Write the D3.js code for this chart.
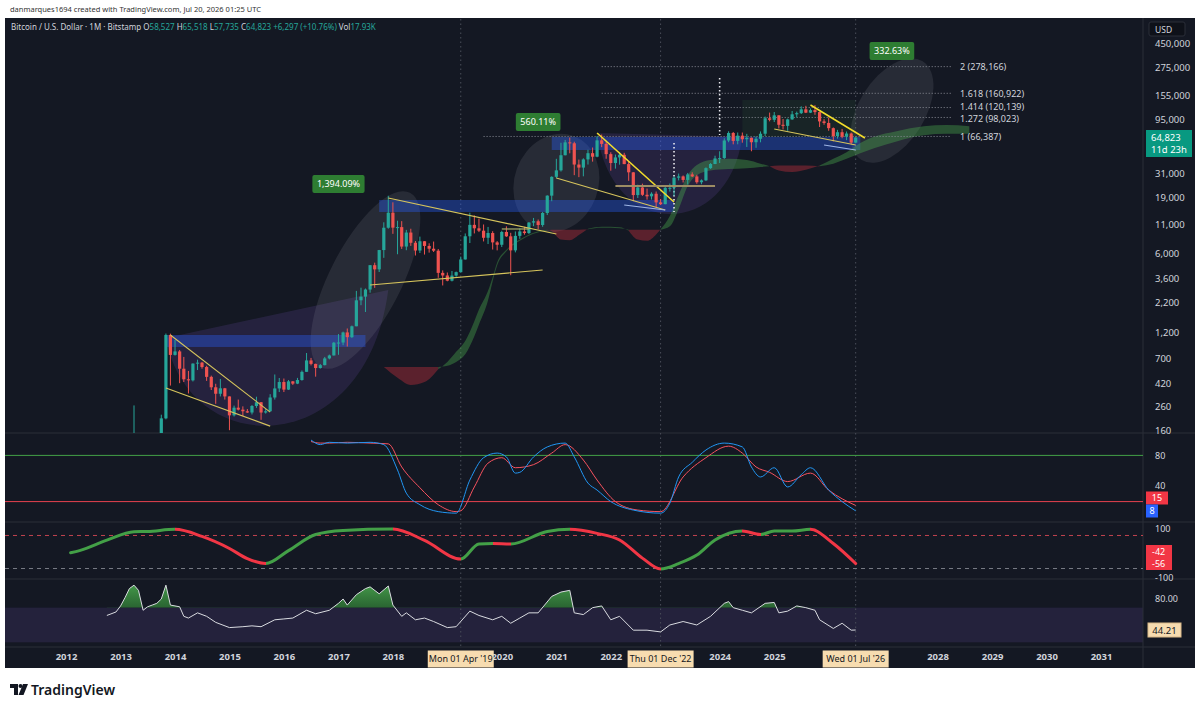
<!DOCTYPE html>
<html>
<head>
<meta charset="utf-8">
<script src="https://cdn.jsdelivr.net/npm/d3@7"></script>
<style>
  body { margin: 0; background: #fff; }
  svg text { font-family: "Noto Sans", "Open Sans", "DejaVu Sans", sans-serif; }
</style>
</head>
<body>
<svg id="chart" width="1200" height="710"></svg>
<script>
// ---------- data ----------
const firstMonth = "2013-01";
// monthly candles [open, high, low, close]
const ohlc = [
  // 2013
  [13.5,20.4,13.2,20.4],[20.4,33.5,19.1,33.4],[33.4,95,33,93],[93,266,50,139],[139,140,79,129],[129,130,88,97],
  [97,111,65,106],[106,140,101,135],[135,141,102,133],[133,220,100,204],[204,1163,200,1130],[1130,1160,400,750],
  // 2014
  [750,1020,740,806],[806,830,420,565],[565,720,430,455],[455,540,340,445],[445,630,435,628],[628,680,550,640],
  [640,650,565,585],[585,600,440,478],[478,490,365,386],[386,415,275,338],[338,458,320,378],[378,381,300,320],
  // 2015
  [320,320,160,217],[217,265,212,254],[254,300,240,244],[244,261,214,236],[236,247,228,230],[230,268,221,263],
  [263,318,253,284],[284,285,198,230],[230,247,225,236],[236,335,235,313],[313,502,300,377],[377,467,350,430],
  // 2016
  [430,462,350,368],[368,448,365,436],[436,439,405,416],[416,468,412,448],[448,545,442,530],[530,780,530,670],
  [670,705,605,624],[624,627,480,573],[573,622,566,608],[608,720,605,698],[698,755,685,742],[742,979,740,964],
  // 2017
  [964,1150,752,967],[967,1210,915,1190],[1190,1290,891,1080],[1080,1370,1060,1350],[1350,2790,1350,2300],[2300,2980,2080,2480],
  [2480,2930,1810,2870],[2870,4740,2690,4730],[4730,4980,2970,4340],[4340,6470,4110,6450],[6450,11400,5500,10200],[10200,19666,10000,13880],
  // 2018
  [13880,17180,9000,10220],[10220,11780,5920,10330],[10330,11680,6600,6930],[6930,9760,6430,9240],[9240,9990,7030,7490],[7490,7770,5770,6390],
  [6390,8500,6070,7730],[7730,7750,5880,7020],[7020,7410,6120,6630],[6630,7680,6200,6370],[6370,6590,3650,4040],[4040,4250,3120,3830],
  // 2019
  [3830,4070,3400,3440],[3440,4200,3390,3820],[3820,4150,3730,4100],[4100,5640,4060,5320],[5320,9070,5300,8560],[8560,13880,7450,10820],
  [10820,13140,9070,10080],[10080,12320,9330,9600],[9600,10900,7700,8300],[8300,10370,7300,9150],[9150,9500,6520,7550],[7550,7750,6410,7190],
  // 2020
  [7190,9580,6860,9350],[9350,10500,8450,8550],[8550,9190,3850,6410],[6410,9450,6150,8630],[8630,10070,8120,9450],[9450,10380,8840,9140],
  [9140,11440,8980,11340],[11340,12470,10540,11650],[11650,12070,9880,10790],[10790,14100,10400,13800],[13800,19850,13230,19700],[19700,29300,17570,28990],
  // 2021
  [28990,41950,28130,33110],[33110,58350,32300,45160],[45160,61780,45000,58800],[58800,64900,47000,57720],[57720,59590,30000,37300],[37300,41300,28800,35040],
  [35040,42400,29300,41460],[41460,50500,37300,47100],[47100,52900,39600,43820],[43820,67000,43300,61300],[61300,69000,53300,57000],[57000,59100,42000,46200],
  // 2022
  [46200,47990,32900,38480],[38480,45800,34300,43190],[43190,48200,37200,45540],[45540,47450,37600,37650],[37650,40000,26700,31800],[31800,31950,17600,19940],
  [19940,24670,18780,23300],[23300,25200,19600,20050],[20050,22800,18150,19420],[19420,21100,18200,20490],[20490,21450,15480,17160],[17160,18400,16260,16540],
  // 2023
  [16540,23960,16500,23130],[23130,25250,21400,23140],[23140,29200,19570,28470],[28470,31000,26940,29250],[29250,29820,25810,27210],[27210,31400,24750,30470],
  [30470,31800,28860,29230],[29230,30200,25160,25940],[25940,27500,24900,26960],[26960,35200,26560,34650],[34650,38400,34100,37720],[37720,44700,37600,42280],
  // 2024
  [42280,48970,38500,42580],[42580,64000,41880,61130],[61130,73800,59000,71300],[71300,72800,56500,60600],[60600,71980,56550,67500],[67500,71950,58400,62700],
  [62700,70000,53500,64600],[64600,65000,49000,58970],[58970,66500,52600,63300],[63300,73600,58900,70200],[70200,99800,66800,96400],[96400,108300,90500,93400],
  // 2025
  [93400,109600,89200,102400],[102400,102500,78200,84350],[84350,95000,76600,82500],[82500,95800,74500,94200],[94200,112000,93400,104600],[104600,110500,98200,107100],
  [107100,123200,105200,115800],[115800,124500,107300,108200],[108200,117900,107300,114000],[114000,126200,103500,109500],[109500,110500,80600,90400],[90400,94600,84400,87600],
  // 2026
  [87600,97900,74600,78700],[78700,79800,60000,66900],[66900,76000,63500,72400],[72400,77500,64000,66000],[66000,73500,61500,70500],[70500,71800,56500,58527],
  [58527,65518,57735,64823]
];

const priceTicks = [160, 260, 420, 700, 1200, 2200, 3600, 6000, 11000, 19000, 31000, 95000, 155000, 275000, 450000];
// years whose labels are not hidden by the date boxes
const yearTicks = [2012, 2013, 2014, 2015, 2016, 2017, 2018, 2020, 2021, 2022, 2024, 2025, 2028, 2029, 2030, 2031];

// cloud spans (price)
const cloudDates = ["2017-11","2018-02","2018-05","2018-08","2018-11","2019-01","2019-03","2019-05","2019-07","2019-08","2019-10","2019-11","2019-12",
  "2020-02","2020-05","2020-08","2020-11","2020-12","2021-02","2021-04","2021-06","2021-08","2021-11","2022-03","2022-05","2022-07","2022-09","2022-11","2022-12",
  "2023-02","2023-04","2023-06","2023-08","2023-11","2024-03","2024-07","2024-10","2024-12","2025-02","2025-05","2025-08","2025-11",
  "2026-02","2026-05","2026-08","2026-11","2027-04","2027-10","2028-03","2028-08"];
const spanA = [585,470,405,430,560,650,800,1000,1500,1900,2800,3700,5000,
  6500,8000,9200,9800,9500,8000,7900,8800,10000,10400,10300,9600,8000,7800,8900,9900,
  13000,20000,30000,37000,41000,42000,41000,38000,36000,33000,32000,33500,36500,
  42000,48000,58000,66000,74000,82000,84000,82000];
const spanB = [585,585,585,585,585,600,650,760,1100,1400,2300,3400,4700,
  6300,7800,9000,9700,9800,9800,9800,9800,9900,10200,10100,9800,9800,9800,9800,9800,
  10500,15000,24000,30000,33000,34000,34500,35500,36000,36500,36500,36500,36000,
  38000,42000,47000,52000,60000,68000,70000,70000];

// stochastic RSI
const stochKDates = ["2016-07","2016-09","2016-11","2017-03","2017-08","2017-11","2018-02","2018-04","2018-07","2018-11","2019-03","2019-06","2019-09","2019-12",
  "2020-02","2020-04","2020-05","2020-08","2020-11","2021-03","2021-05","2021-08","2021-10","2022-01","2022-06","2022-12","2023-02","2023-04","2023-07","2023-10",
  "2024-02","2024-06","2024-08","2024-10","2025-01","2025-04","2025-07","2025-09","2026-01","2026-04","2026-07"];
const stochK = [100,94,97,96,97,94,61,31,16,7,5,48,77,83,78,57,58,78,91,96,78,44,35,20,9,5,18,52,71,87,96,91,65,52,64,39,55,64,35,20,8];
const stochDDates = ["2016-07","2016-09","2016-11","2017-03","2017-08","2017-12","2018-03","2018-07","2018-11","2019-03","2019-04","2019-07","2019-10","2020-01",
  "2020-04","2020-08","2020-12","2021-03","2021-07","2021-10","2022-02","2022-07","2022-12","2023-05","2023-10","2024-03","2024-06","2024-09","2024-12","2025-04",
  "2025-09","2026-01","2026-07"];
const stochD = [98,96,96,97,96,95,65,38,16,7,8,39,70,77,64,68,83,94,74,48,20,9,7,52,77,92,83,65,58,46,57,35,15];

// oscillator (-100..100)
const oscDates = ["2012-02","2012-04","2012-10","2013-04","2013-07","2014-01","2014-07","2015-01","2015-05","2015-09","2016-02","2016-08","2017-02","2018-01",
  "2018-08","2019-04","2019-08","2019-11","2020-03","2020-11","2021-04","2021-10","2022-03","2022-08","2022-12","2023-04","2023-08","2023-12","2024-06","2024-10",
  "2025-01","2025-05","2025-09","2026-02","2026-07"];
const oscValues = [-3,6,50,86,87,96,66,15,-28,-49,6,74,91,97,49,-30,34,36,34,87,96,79,51,-26,-72,-49,-13,51,89,74,89,89,96,36,-49];

// bottom oscillator
const rsiDates = ["2012-10","2012-12","2013-01","2013-02","2013-03","2013-04","2013-05","2013-06","2013-07","2013-08","2013-09","2013-10","2013-11","2013-12",
  "2014-02","2014-03","2014-04","2014-06","2014-08","2014-10","2015-01","2015-04","2015-06","2015-08","2015-11","2016-01","2016-03","2016-06","2016-08","2016-11",
  "2017-01","2017-02","2017-03","2017-05","2017-07","2017-08","2017-10","2017-12","2018-01","2018-03","2018-04","2018-06","2018-08","2018-10","2019-01","2019-03",
  "2019-06","2019-08","2019-11","2020-01","2020-03","2020-05","2020-07","2020-09","2020-12","2021-02","2021-04","2021-05","2021-07","2021-09","2021-11","2022-01",
  "2022-03","2022-06","2022-09","2022-12","2023-02","2023-05","2023-08","2023-11","2024-02","2024-03","2024-04","2024-06","2024-08","2024-11","2025-01","2025-02",
  "2025-04","2025-06","2025-08","2025-10","2025-11","2026-02","2026-04","2026-06","2026-07"];
const rsiValues = [61,65,72,82,92,96,90,67,71,73,75,80,96,73,
  71,60,58,64,60,53,47,48,49,48,56,57,58,67,63,67,
  75,80,73,85,92,94,86,95,73,60,64,56,58,54,47,48,
  66,61,56,60,52,58,64,64,83,88,90,64,62,70,72,56,
  60,44,44,42,50,54,50,60,75,77,70,67,64,75,76,64,
  66,72,70,67,56,46,52,44,44.21];

// drawings
const zones = [ // [from, to, top price, bottom price]
  ["2013-11", "2017-07", 1129, 883],
  ["2017-10", "2023-03", 18030, 14090],
  ["2020-12", "2026-08", 65680, 50270]
];
const trendLines = [ // [from, price, to, price, kind]
  ["2013-12", 1129, "2015-10", 232, "pale"],
  ["2013-11", 380, "2015-10", 174, "pale"],
  ["2017-12", 18770, "2021-01", 8970, "pale"],
  ["2017-08", 3150, "2020-10", 4284, "pale"],
  ["2021-10", 71280, "2023-03", 17290, "bright"],
  ["2021-01", 28300, "2023-01", 14680, "pale"],
  ["2022-04", 16260, "2023-01", 14680, "blue"],
  ["2022-02", 24020, "2023-12", 24020, "tan"],
  ["2025-09", 126600, "2026-09", 64340, "bright"],
  ["2025-01", 77390, "2026-07", 55720, "pale"],
  ["2025-12", 55720, "2026-07", 50270, "blue"],
  ["2020-01", 9940, "2020-07", 9940, "olive"]
];
const fibLevels = ["1", "1.272", "1.414", "1.618", "2"];
const fibPrices = [66387, 98023, 120139, 160922, 278166];
const fibFrom = ["2019-09", "2021-11", "2021-11", "2021-11", "2021-11"];
const fibTo = "2028-04";
const ellipses = [ // [centre month, centre price, rx, ry, rotation]
  ["2017-07", 3490, 98, 36, -63],
  ["2021-01", 25550, 42, 50, 20],
  ["2027-03", 113000, 58, 33, -58]
];
const arcs = [ // [from, price, to, price, bottom price]
  ["2013-11", 1061, "2017-12", 2843, 178],
  ["2021-10", 71280, "2024-06", 66000, 13500]
];
const pctLabels = [["1,394.09%", "2017-01", 25020], ["560.11%", "2020-09", 89330], ["332.63%", "2027-03", 383500]];
const dottedMarks = [["2023-03", 58030, 14090], ["2024-01", 220300, 68400]];
const markedDates = ["2019-04", "2022-12", "2026-07"];
const markedLabels = ["Mon 01 Apr '19", "Thu 01 Dec '22", "Wed 01 Jul '26"];

// ---------- layout ----------
const svg = d3.select("#chart");
const plotL = 5, plotR = 1143, panelR = 1195;
const mainTop = 19, mainBot = 433, stochBot = 522, oscBot = 579, rsiBot = 647, axisBot = 668;
const bg = "#141823", txt = "#d1d4dc", green = "#26a69a", red = "#ef5350";
const parse = d3.timeParse("%Y-%m");

const x = d3.scaleTime().domain([new Date(2012, 0, 1), new Date(2031, 0, 1)]).range([66, 1101]);
const y = d3.scaleLog().domain([160, 450000]).range([430.2, 43.2]);
const yStoch = d3.scaleLinear().domain([0, 100]).range([517, 440]);
const yOsc = d3.scaleLinear().domain([-100, 100]).range([575.6, 528.4]);
const yRsi = d3.scaleLinear().domain([44.21, 80]).range([630, 599]);
const xm = s => x(parse(s));

svg.append("rect").attr("width", 1200).attr("height", 710).attr("fill", "#fff");
svg.append("rect").attr("x", plotL).attr("y", 18).attr("width", panelR - plotL).attr("height", axisBot - 18).attr("fill", bg);

const defs = svg.append("defs");
defs.append("clipPath").attr("id", "clipMain").append("rect")
  .attr("x", plotL).attr("y", mainTop).attr("width", plotR - plotL).attr("height", mainBot - mainTop);
defs.append("clipPath").attr("id", "clipFill").append("rect")
  .attr("x", plotL).attr("y", oscBot).attr("width", plotR - plotL).attr("height", yRsi(70) - oscBot);

// rsi band
svg.append("rect").attr("x", plotL).attr("y", yRsi(70)).attr("width", plotR - plotL)
  .attr("height", yRsi(30) - yRsi(70)).attr("fill", "rgba(126,87,194,0.16)");

// pane separators
[mainBot, stochBot, oscBot, rsiBot].forEach(v => {
  svg.append("line").attr("x1", plotL).attr("x2", panelR).attr("y1", v).attr("y2", v).attr("stroke", "#2a2e39");
});
svg.append("line").attr("x1", plotR).attr("x2", plotR).attr("y1", 18).attr("y2", axisBot).attr("stroke", "#2a2e39");

// marked date verticals
markedDates.forEach(d => {
  svg.append("line").attr("x1", xm(d)).attr("x2", xm(d)).attr("y1", mainTop).attr("y2", rsiBot)
    .attr("stroke", "#4a4e5a").attr("stroke-dasharray", "1.5,3");
});

// ---------- main pane ----------
const main = svg.append("g").attr("clip-path", "url(#clipMain)");

// arcs
arcs.forEach(a => {
  const x1 = xm(a[0]), y1 = y(a[1]), x2 = xm(a[2]), y2 = y(a[3]), yb = y(a[4]);
  const yc = (yb - 0.125 * (y1 + y2)) / 0.75;
  const c1 = x1 + 0.1 * (x2 - x1), c2 = x1 + 0.9 * (x2 - x1);
  main.append("path").attr("d", `M${x1},${y1} C${c1},${yc} ${c2},${yc} ${x2},${y2} Z`)
    .attr("fill", "rgba(126,87,194,0.17)");
});

// green box 2024-25
main.append("rect").attr("x", xm("2024-06")).attr("y", y(140400))
  .attr("width", xm("2026-07") - xm("2024-06")).attr("height", y(65680) - y(140400))
  .attr("fill", "rgba(76,175,80,0.08)");

// ellipses
ellipses.forEach(e => {
  main.append("ellipse").attr("cx", 0).attr("cy", 0).attr("rx", e[2]).attr("ry", e[3])
    .attr("transform", `translate(${xm(e[0])},${y(e[1])}) rotate(${e[4]})`)
    .attr("fill", "rgba(200,204,214,0.11)");
});

// zones
zones.forEach(z => {
  main.append("rect").attr("x", xm(z[0])).attr("y", y(z[2]))
    .attr("width", xm(z[1]) - xm(z[0])).attr("height", y(z[3]) - y(z[2]))
    .attr("fill", "rgba(41,98,255,0.36)");
});

// cloud
const cloudPts = cloudDates.map((d, i) => ({ d: parse(d), a: spanA[i], b: spanB[i] }));
const runs = [];
for (let i = 0; i < cloudPts.length - 1; i++) {
  const up = cloudPts[i].a + cloudPts[i + 1].a >= cloudPts[i].b + cloudPts[i + 1].b;
  const last = runs[runs.length - 1];
  if (last && last.up === up) last.pts.push(cloudPts[i + 1]);
  else runs.push({ up, pts: [cloudPts[i], cloudPts[i + 1]] });
}
const cloudArea = d3.area().x(p => x(p.d)).y0(p => y(p.b)).y1(p => y(p.a)).curve(d3.curveMonotoneX);
runs.forEach(r => {
  main.append("path").attr("d", cloudArea(r.pts))
    .attr("fill", r.up ? "rgba(76,175,80,0.38)" : "rgba(242,54,69,0.32)");
});

// fib lines (labels nudged apart where levels sit close together)
const fibNudge = [0, 1.5, -1, 0, 0];
fibPrices.forEach((p, i) => {
  main.append("line").attr("x1", xm(fibFrom[i])).attr("x2", xm(fibTo)).attr("y1", y(p)).attr("y2", y(p))
    .attr("stroke", "#8a8d96").attr("stroke-dasharray", "1,2");
  svg.append("text").attr("x", xm(fibTo) + 9).attr("y", y(p) + 3.2 + fibNudge[i])
    .attr("fill", txt).attr("font-size", 9)
    .text(`${fibLevels[i]} (${d3.format(",")(p)})`);
});

// dotted white marks
dottedMarks.forEach(m => {
  main.append("line").attr("x1", xm(m[0])).attr("x2", xm(m[0])).attr("y1", y(m[1])).attr("y2", y(m[2]))
    .attr("stroke", "#e8e8ee").attr("stroke-width", 1.6).attr("stroke-dasharray", "1.5,2.5");
});

// candles
const start = parse(firstMonth);
const candles = main.append("g");
ohlc.forEach((c, i) => {
  const cx = x(d3.timeMonth.offset(start, i));
  const col = c[3] >= c[0] ? green : red;
  candles.append("line").attr("x1", cx).attr("x2", cx).attr("y1", y(c[1])).attr("y2", y(c[2]))
    .attr("stroke", col).attr("stroke-width", 1);
  const top = y(Math.max(c[0], c[3])), bot = y(Math.min(c[0], c[3]));
  candles.append("rect").attr("x", cx - 1.6).attr("y", top).attr("width", 3.2)
    .attr("height", Math.max(1, bot - top)).attr("fill", col);
});

// trend lines
const lineStyle = {
  pale: ["#d6c45c", 1.1], bright: ["#f2dc2a", 1.6], blue: ["#9fb6e6", 1.2],
  tan: ["#9c8c64", 2], olive: ["#a7ad6a", 1.2]
};
trendLines.forEach(t => {
  main.append("line").attr("x1", xm(t[0])).attr("y1", y(t[1])).attr("x2", xm(t[2])).attr("y2", y(t[3]))
    .attr("stroke", lineStyle[t[4]][0]).attr("stroke-width", lineStyle[t[4]][1]);
});

// percentage labels
pctLabels.forEach(l => {
  const g = svg.append("g").attr("transform", `translate(${xm(l[1])},${y(l[2])})`);
  const t = g.append("text").attr("text-anchor", "middle").attr("y", 3.3).attr("fill", "#fff")
    .attr("font-size", 9).text(l[0]);
  const w = t.node().getComputedTextLength() + 9;
  g.insert("rect", "text").attr("x", -w / 2).attr("y", -9).attr("width", w).attr("height", 18)
    .attr("rx", 2).attr("fill", "#2e7d32");
});

// ---------- stoch pane ----------
svg.append("line").attr("x1", plotL).attr("x2", plotR).attr("y1", yStoch(80)).attr("y2", yStoch(80))
  .attr("stroke", "#43a047");
svg.append("line").attr("x1", plotL).attr("x2", plotR).attr("y1", yStoch(20)).attr("y2", yStoch(20))
  .attr("stroke", "#e8424f");
const stochLine = d3.line().x(d => xm(d[0])).y(d => yStoch(d[1])).curve(d3.curveMonotoneX);
svg.append("path").attr("d", stochLine(stochDDates.map((d, i) => [d, stochD[i]])))
  .attr("fill", "none").attr("stroke", "#f7525f").attr("stroke-width", 1);
svg.append("path").attr("d", stochLine(stochKDates.map((d, i) => [d, stochK[i]])))
  .attr("fill", "none").attr("stroke", "#2196f3").attr("stroke-width", 1);

// ---------- oscillator pane ----------
svg.append("line").attr("x1", plotL).attr("x2", plotR).attr("y1", yOsc(70)).attr("y2", yOsc(70))
  .attr("stroke", "#c2434f").attr("stroke-dasharray", "4,4");
svg.append("line").attr("x1", plotL).attr("x2", plotR).attr("y1", yOsc(-70)).attr("y2", yOsc(-70))
  .attr("stroke", "#787b86").attr("stroke-dasharray", "4,4");
const oscGrad = defs.append("linearGradient").attr("id", "oscGrad").attr("gradientUnits", "userSpaceOnUse")
  .attr("x1", xm(oscDates[0])).attr("x2", xm(oscDates[oscDates.length - 1])).attr("y1", 0).attr("y2", 0);
const ox0 = xm(oscDates[0]), ox1 = xm(oscDates[oscDates.length - 1]);
for (let i = 0; i < oscValues.length - 1; i++) {
  const col = oscValues[i + 1] >= oscValues[i] ? "#43a047" : "#f23645";
  const a = (xm(oscDates[i]) - ox0) / (ox1 - ox0), b = (xm(oscDates[i + 1]) - ox0) / (ox1 - ox0);
  oscGrad.append("stop").attr("offset", a).attr("stop-color", col);
  oscGrad.append("stop").attr("offset", b).attr("stop-color", col);
}
svg.append("path")
  .attr("d", d3.line().x(d => xm(d)).y((d, i) => yOsc(oscValues[i])).curve(d3.curveMonotoneX)(oscDates))
  .attr("fill", "none").attr("stroke", "url(#oscGrad)").attr("stroke-width", 3).attr("stroke-linecap", "round");

// ---------- bottom pane ----------
const rsiPts = rsiDates.map((d, i) => [d, rsiValues[i]]);
const fillGrad = defs.append("linearGradient").attr("id", "fillGrad").attr("x1", 0).attr("x2", 0).attr("y1", 0).attr("y2", 1);
fillGrad.append("stop").attr("offset", 0).attr("stop-color", "#4caf50").attr("stop-opacity", 0.85);
fillGrad.append("stop").attr("offset", 1).attr("stop-color", "#1b5e20").attr("stop-opacity", 0.5);
svg.append("path").attr("clip-path", "url(#clipFill)")
  .attr("d", d3.area().x(d => xm(d[0])).y0(yRsi(70)).y1(d => yRsi(d[1]))(rsiPts))
  .attr("fill", "url(#fillGrad)");
svg.append("path").attr("d", d3.line().x(d => xm(d[0])).y(d => yRsi(d[1]))(rsiPts))
  .attr("fill", "none").attr("stroke", "#d9dbe0").attr("stroke-width", 1);

// ---------- axes ----------
const yAxisG = svg.append("g").attr("transform", `translate(${plotR},0)`)
  .call(d3.axisRight(y).tickValues(priceTicks).tickFormat(d3.format(",")).tickSize(0).tickPadding(12));
yAxisG.select(".domain").remove();
yAxisG.selectAll("text").attr("fill", txt).attr("font-size", 9.5).attr("font-family", "Noto Sans");

const xAxisG = svg.append("g").attr("transform", `translate(0,${rsiBot + 6})`)
  .call(d3.axisBottom(x).tickValues(yearTicks.map(v => new Date(v, 0, 1))).tickFormat(d3.timeFormat("%Y")).tickSize(0).tickPadding(0));
xAxisG.select(".domain").remove();
xAxisG.selectAll("text").attr("fill", txt).attr("font-size", 9.5).attr("font-weight", 700).attr("font-family", "Noto Sans");

markedDates.forEach((d, i) => {
  const g = svg.append("g").attr("transform", `translate(${xm(d)},${rsiBot + 12})`);
  g.append("rect").attr("x", -33).attr("y", -8.5).attr("width", 66).attr("height", 17).attr("fill", "#f7dcb0");
  g.append("text").attr("text-anchor", "middle").attr("y", 3.3).attr("font-size", 9).attr("fill", "#131722")
    .text(markedLabels[i]);
});

// right-side labels
function axisText(v, yy) {
  svg.append("text").attr("x", plotR + 12).attr("y", yy + 3.3).attr("fill", txt).attr("font-size", 9).text(v);
}
function boxLabel(v, yy, fill, color, w) {
  svg.append("rect").attr("x", plotR + 3).attr("y", yy - 6.5).attr("width", w).attr("height", 13).attr("fill", fill);
  svg.append("text").attr("x", plotR + 3 + w / 2).attr("y", yy + 3.2).attr("text-anchor", "middle")
    .attr("fill", color).attr("font-size", 9).text(v);
}
// USD box
svg.append("rect").attr("x", plotR + 6).attr("y", 22).attr("width", 36).attr("height", 14).attr("rx", 2)
  .attr("fill", "#0e1119").attr("stroke", "#2a2e39");
svg.append("text").attr("x", plotR + 12).attr("y", 32.5).attr("fill", txt).attr("font-size", 8.5).text("USD");
// last price
svg.append("rect").attr("x", plotR + 3).attr("y", 130).attr("width", 46).attr("height", 27).attr("fill", "#089981");
svg.append("text").attr("x", plotR + 8).attr("y", 141).attr("fill", "#fff").attr("font-size", 9.5).text(d3.format(",")(64823));
svg.append("text").attr("x", plotR + 8).attr("y", 153).attr("fill", "#fff").attr("font-size", 9.5).text("11d 23h");

axisText("80", yStoch(80));
axisText("40", yStoch(40) - 1);
boxLabel("15", 498, "#f23645", "#fff", 22);
boxLabel("8", 511, "#2962ff", "#fff", 12);
axisText("100", yOsc(100));
svg.append("rect").attr("x", plotR + 3).attr("y", 545).attr("width", 26).attr("height", 25).attr("fill", "#f23645");
svg.append("text").attr("x", plotR + 9).attr("y", 555).attr("fill", "#fff").attr("font-size", 9).text("-42");
svg.append("text").attr("x", plotR + 9).attr("y", 567).attr("fill", "#fff").attr("font-size", 9).text("-56");
axisText("-100", yOsc(-100) + 2.5);
axisText("80.00", yRsi(80));
svg.append("rect").attr("x", plotR + 5).attr("y", 623).attr("width", 33).attr("height", 14).attr("fill", "#f7dcb0")
  .attr("stroke", "#d9b98a");
svg.append("text").attr("x", plotR + 21.5).attr("y", 633.5).attr("text-anchor", "middle").attr("fill", "#131722")
  .attr("font-size", 9.5).text("44.21");

// ---------- header texts ----------
svg.append("text").attr("x", 10).attr("y", 12).attr("fill", "#333").attr("font-size", 7.5)
  .text("danmarques1694 created with TradingView.com, Jul 20, 2026 01:25 UTC");
const head = svg.append("text").attr("x", 11).attr("y", 29.5).attr("font-size", 8).attr("fill", txt);
const last = ohlc[ohlc.length - 1];
const fmt = d3.format(",");
head.append("tspan").text("Bitcoin / U.S. Dollar · 1M · Bitstamp  ");
[["O", last[0]], ["H", last[1]], ["L", last[2]], ["C", last[3]]].forEach(p => {
  head.append("tspan").text(" " + p[0]);
  head.append("tspan").attr("fill", green).text(fmt(p[1]));
});
head.append("tspan").attr("fill", green).text("  +6,297 (+10.76%)");
head.append("tspan").text("  Vol");
head.append("tspan").attr("fill", green).text("17.93K");

// TradingView logo
const logo = svg.append("g").attr("transform", "translate(10,684)").attr("fill", "#131722");
logo.append("path").attr("d", "M0,0 H8 V11 H4 V4 H0 Z");
logo.append("circle").attr("cx", 10.5).attr("cy", 2).attr("r", 2);
logo.append("path").attr("d", "M13,0 H18 L13.5,11 H8.5 Z");
svg.append("text").attr("x", 31).attr("y", 695).attr("font-size", 14).attr("font-weight", 600)
  .attr("fill", "#131722").text("TradingView");
</script>
</body>
</html>
